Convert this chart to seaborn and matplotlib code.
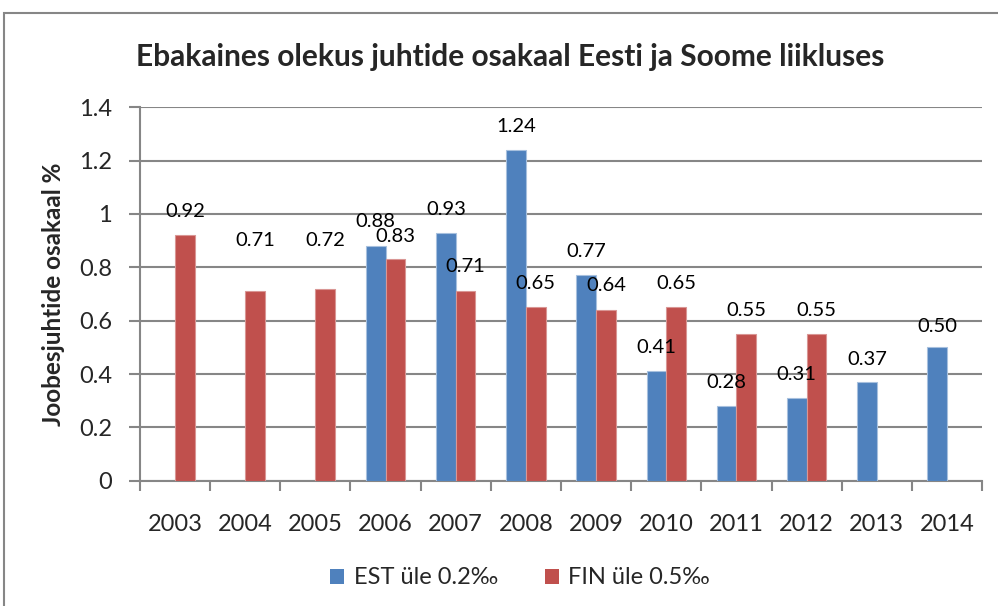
import matplotlib
matplotlib.use("Agg")
import matplotlib.pyplot as plt
import seaborn as sns
import pandas as pd
import numpy as np
from matplotlib.patches import Rectangle, Patch
from matplotlib.ticker import FixedLocator

years = ["2003", "2004", "2005", "2006", "2007", "2008", "2009", "2010", "2011", "2012", "2013", "2014"]
est = [np.nan, np.nan, np.nan, 0.88, 0.93, 1.24, 0.77, 0.41, 0.28, 0.31, 0.37, 0.50]
fin = [0.92, 0.71, 0.72, 0.83, 0.71, 0.65, 0.64, 0.65, 0.55, 0.55, np.nan, np.nan]
series_names = ["EST üle 0.2‰", "FIN üle 0.5‰"]
# label heights (data units) as placed in the reference
est_label_y = [np.nan, np.nan, np.nan, 0.971, 1.015, 1.327, 0.858, 0.499, 0.367, 0.400, 0.455, 0.580]
fin_label_y = [1.008, 0.902, 0.902, 0.917, 0.802, 0.740, 0.730, 0.740, 0.637, 0.637, np.nan, np.nan]
yticks = [0, 0.2, 0.4, 0.6, 0.8, 1.0, 1.2, 1.4]
ytick_labels = ["0", "0.2", "0.4", "0.6", "0.8", "1", "1.2", "1.4"]

title = "Ebakaines olekus juhtide osakaal Eesti ja Soome liikluses"
ylabel = "Joobesjuhtide osakaal %"

colors = ["#4F81BD", "#C0504D"]
edge_colors = ["#A7C0DE", "#D99694"]

sns.set_theme(style="white")
plt.rcParams["font.family"] = ["Lato", "DejaVu Sans"]

df = pd.DataFrame({
    "year": years * 2,
    "value": est + fin,
    "series": [series_names[0]] * len(years) + [series_names[1]] * len(years),
})

fig = plt.figure(figsize=(9.98, 6.06), dpi=100)
ax = fig.add_axes([140 / 998, 1 - 480.7 / 606, (982 - 140) / 998, (480.7 - 107.3) / 606])

sns.barplot(data=df, x="year", y="value", hue="series", order=years,
            hue_order=series_names, palette=colors, width=0.56, saturation=1,
            errorbar=None, ax=ax, legend=False, zorder=3)

for container, ec in zip(ax.containers, edge_colors):
    for bar in container:
        bar.set_edgecolor(ec)
        bar.set_linewidth(0.8)

# data labels (bars exist only for non-missing values, in year order)
for container, vals, ly in zip(ax.containers, [est, fin], [est_label_y, fin_label_y]):
    pairs = [(v, y) for v, y in zip(vals, ly) if not np.isnan(v)]
    for bar, (v, y) in zip(container, pairs):
        cx = bar.get_x() + bar.get_width() / 2
        ax.text(cx, y, f"{v:.2f}", ha="center", va="center", fontsize=14.5, color="black", zorder=5)

ax.set_ylim(0, 1.4)
ax.set_xlim(-0.5, len(years) - 0.5)
ax.set_yticks(yticks)
ax.set_yticklabels(ytick_labels, fontsize=17)
ax.set_xticks(range(len(years)))
ax.set_xticklabels(years, fontsize=17)
ax.xaxis.set_minor_locator(FixedLocator(np.arange(-0.5, len(years), 1.0)))
ax.tick_params(axis="x", which="major", length=0, pad=24)
ax.tick_params(axis="x", which="minor", length=7, width=1.5, color="#868686", direction="out", bottom=True)
ax.tick_params(axis="y", length=8, width=1.5, color="#868686", direction="out", left=True, pad=12)
ax.set_xlabel("")
ax.set_ylabel(ylabel, fontsize=17.5, fontweight="bold", labelpad=10)

ax.grid(axis="y", color="#868686", linewidth=1.5, zorder=0)
ax.set_axisbelow(True)
for s in ["top", "right"]:
    ax.spines[s].set_visible(False)
for s in ["left", "bottom"]:
    ax.spines[s].set_color("#868686")
    ax.spines[s].set_linewidth(1.5)

fig.text(510 / 998, 1 - 57 / 606, title, ha="center", va="center", fontsize=21.5, fontweight="bold")

handles = [Patch(facecolor=c, edgecolor="none") for c in colors]
fig.legend(handles, series_names, loc="center", bbox_to_anchor=(520 / 998, 1 - 578 / 606),
           ncol=2, frameon=False, fontsize=17, handlelength=0.6, handleheight=0.6,
           handletextpad=0.4, columnspacing=2.0)

# outer chart frame
fig.patches.append(Rectangle((4 / 998, -0.1), 1.2, 1 - 13 / 606 + 0.1, transform=fig.transFigure,
                             fill=False, edgecolor="#868686", linewidth=1.5, zorder=0))

fig.savefig("out.png", dpi=100)
